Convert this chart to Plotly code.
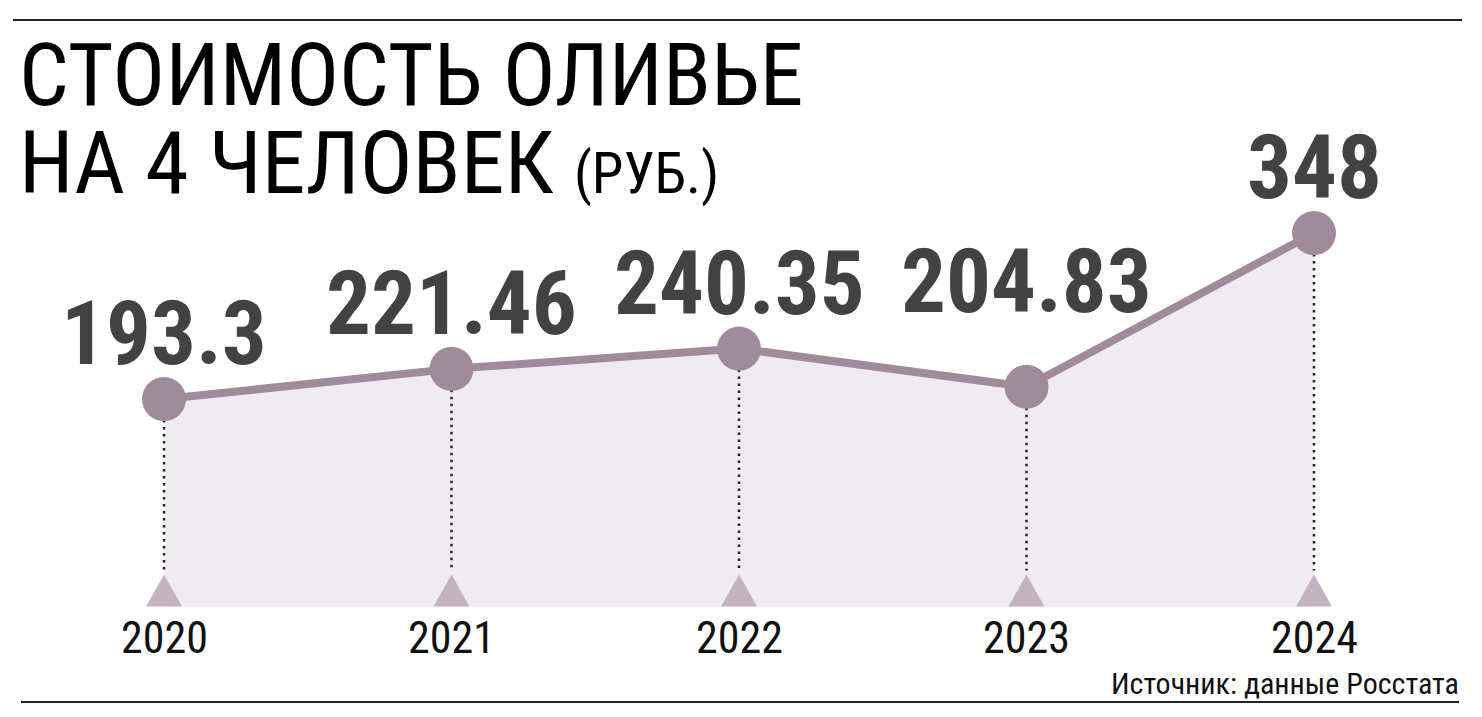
import plotly.graph_objects as go

years = [2020, 2021, 2022, 2023, 2024]
values = [193.3, 221.46, 240.35, 204.83, 348]
value_labels = ["193.3", "221.46", "240.35", "204.83", "348"]
year_labels = ["2020", "2021", "2022", "2023", "2024"]
title_line1 = "СТОИМОСТЬ ОЛИВЬЕ"
title_line2 = "НА 4 ЧЕЛОВЕК"
title_unit = "(РУБ.)"
source_text = "Источник: данные Росстата"

W, H = 1482, 717
FONT = "Roboto Condensed, DejaVu Sans Condensed, sans-serif"
LINE_C = "#A18A99"
FILL_C = "#F0EBF0"
TRI_C = "#C5B3BF"
LABEL_C = "#424242"

# axis mapping (style): pixel positions
px_per_year = 287.5
x_first_px = 164
px_per_unit = 1.073
zero_px = 606.5
x_range = [years[0] - x_first_px / px_per_year, years[0] + (W - x_first_px) / px_per_year]
y_range = [(zero_px - H) / px_per_unit, zero_px / px_per_unit]

tri_half_w = 18 / px_per_year
tri_h = 32 / px_per_unit

fig = go.Figure()

# area fill under line
fig.add_trace(go.Scatter(x=years, y=values, mode="lines", line=dict(width=0, color=FILL_C),
                         fill="tozeroy", fillcolor=FILL_C, hoverinfo="skip", showlegend=False))

# dotted drop lines
dx, dy = [], []
for yr, v in zip(years, values):
    dx += [yr, yr, None]
    dy += [v, tri_h + 4 / px_per_unit, None]
fig.add_trace(go.Scatter(x=dx, y=dy, mode="lines",
                         line=dict(color="#222222", width=2.5, dash="2.5px,4.5px"),
                         hoverinfo="skip", showlegend=False))

# triangles at baseline
tx, ty = [], []
for yr in years:
    tx += [yr - tri_half_w, yr + tri_half_w, yr, yr - tri_half_w, None]
    ty += [0, 0, tri_h, 0, None]
fig.add_trace(go.Scatter(x=tx, y=ty, mode="lines", fill="toself", fillcolor=TRI_C,
                         line=dict(width=0, color=TRI_C), hoverinfo="skip", showlegend=False))

# main line with markers
fig.add_trace(go.Scatter(x=years, y=values, mode="lines+markers",
                         line=dict(color=LINE_C, width=8),
                         marker=dict(size=44, color=LINE_C),
                         hoverinfo="skip", showlegend=False))

annotations = []
label_shift = {2023: 51}
for yr, v, lab in zip(years, values, value_labels):
    annotations.append(dict(x=yr, y=v, xref="x", yref="y", text="<b>" + lab + "</b>", showarrow=False,
                            xanchor="center", yanchor="bottom",
                            yshift=label_shift.get(yr, 11),
                            font=dict(family=FONT, size=89, color=LABEL_C)))
for yr, lab in zip(years, year_labels):
    annotations.append(dict(x=yr, y=1 - 637.5 / H, xref="x", yref="paper", text=lab, showarrow=False,
                            xanchor="center", yanchor="middle",
                            font=dict(family=FONT, size=44, color="#111111")))

annotations.append(dict(x=17 / W, y=1 - 74.5 / H, xref="paper", yref="paper", text=title_line1,
                        showarrow=False, xanchor="left", yanchor="middle",
                        font=dict(family=FONT, size=88, color="#000000")))
annotations.append(dict(x=17 / W, y=1 - 162 / H, xref="paper", yref="paper",
                        text=title_line2 + " <span style='font-size:57px'>" + title_unit + "</span>",
                        showarrow=False, xanchor="left", yanchor="middle",
                        font=dict(family=FONT, size=88, color="#000000")))
annotations.append(dict(x=1461 / W, y=1 - 683 / H, xref="paper", yref="paper", text=source_text,
                        showarrow=False, xanchor="right", yanchor="middle",
                        font=dict(family=FONT, size=30, color="#111111")))

shapes = [
    dict(type="line", xref="paper", yref="paper", x0=13 / W, x1=1462 / W, y0=1 - 20 / H, y1=1 - 20 / H,
         line=dict(color="#222222", width=2)),
    dict(type="line", xref="paper", yref="paper", x0=21 / W, x1=1459 / W, y0=1 - 702 / H, y1=1 - 702 / H,
         line=dict(color="#222222", width=2)),
]

fig.update_layout(
    width=W, height=H, margin=dict(l=0, r=0, t=0, b=0),
    paper_bgcolor="white", plot_bgcolor="white",
    xaxis=dict(range=x_range, visible=False, fixedrange=True),
    yaxis=dict(range=y_range, visible=False, fixedrange=True),
    annotations=annotations, shapes=shapes, showlegend=False,
)

fig.write_html("out.html", config={"displayModeBar": False},
               post_script="document.body.style.margin='0px';")
